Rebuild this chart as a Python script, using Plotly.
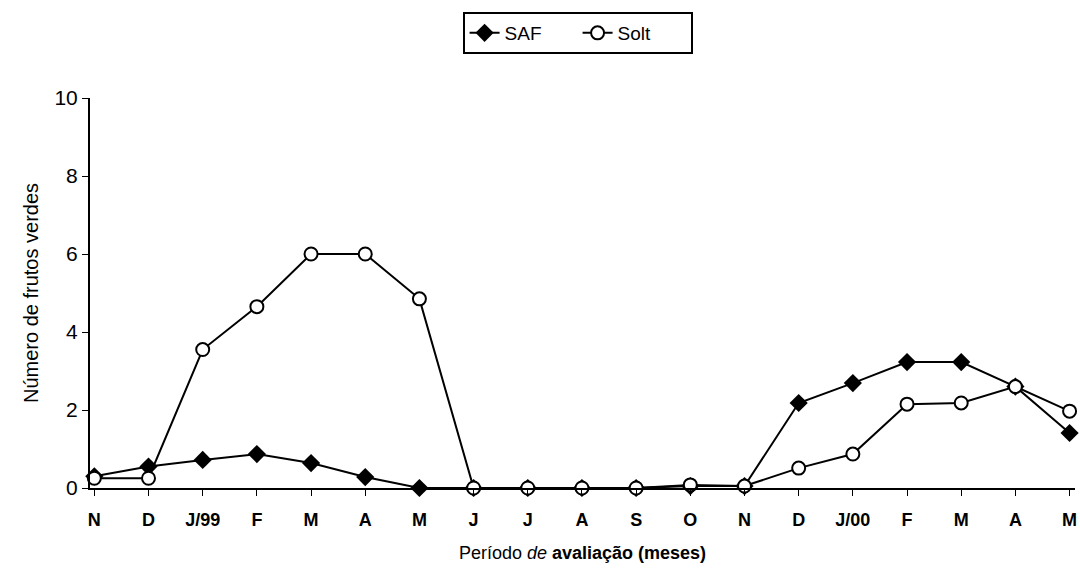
import plotly.graph_objects as go

# meses de avaliação (nov/98 a mai/00)
meses = ['N', 'D', 'J/99', 'F', 'M', 'A', 'M', 'J', 'J', 'A', 'S', 'O', 'N',
         'D', 'J/00', 'F', 'M', 'A', 'M']
saf = [0.3, 0.55, 0.72, 0.87, 0.64, 0.28, 0, 0, 0, 0, 0, 0.05, 0.05,
       2.18, 2.69, 3.23, 3.23, 2.6, 1.41]
solt = [0.25, 0.25, 3.55, 4.65, 6.0, 6.0, 4.85, 0, 0, 0, 0, 0.08, 0.05,
        0.51, 0.87, 2.15, 2.18, 2.6, 1.97]
yticks = [0, 2, 4, 6, 8, 10]

x = list(range(len(meses)))
FONT = 'Liberation Sans, Arial, sans-serif'

fig = go.Figure()
fig.add_trace(go.Scatter(
    x=x, y=saf, name='SAF', mode='lines+markers',
    line=dict(color='black', width=2),
    marker=dict(symbol='diamond', size=14, color='black'),
    cliponaxis=False,
))
fig.add_trace(go.Scatter(
    x=x, y=solt, name='Solt', mode='lines+markers',
    line=dict(color='black', width=2),
    marker=dict(symbol='circle', size=13, color='white',
                line=dict(color='black', width=2)),
    cliponaxis=False,
))

fig.update_layout(
    width=1080, height=573,
    margin=dict(l=90, r=5, t=98, b=85, autoexpand=False),
    paper_bgcolor='white', plot_bgcolor='white',
    font=dict(family=FONT, color='black'),
    legend=dict(orientation='h', x=0.495, xanchor='center', y=1.2205, yanchor='top',
                bordercolor='black', borderwidth=2, bgcolor='white',
                font=dict(size=19), entrywidth=68, tracegroupgap=0),
    xaxis=dict(
        range=[-0.08, 18.1], tickmode='array', tickvals=x, ticktext=meses,
        showline=True, linecolor='black', linewidth=2, showgrid=False, zeroline=False,
        ticks='outside', ticklen=6, tickcolor='black', ticklabelstandoff=8,
        tickfont=dict(size=18, family=FONT, weight='bold'),
        title=dict(text='Período <i>de</i> <b>avaliação (meses)</b>',
                   font=dict(size=18), standoff=18),
    ),
    yaxis=dict(
        range=[0, 10], tickvals=yticks,
        showline=True, linecolor='black', linewidth=2, showgrid=False, zeroline=False,
        ticks='outside', ticklen=6, tickcolor='black',
        tickfont=dict(size=21),
        title=dict(text='Número de frutos verdes', font=dict(size=20), standoff=10),
    ),
)

# tira a margem padrão do <body> para a figura ocupar a janela toda
fig.write_html('out.html', config={'displayModeBar': False},
               post_script="document.body.style.margin='0';")
